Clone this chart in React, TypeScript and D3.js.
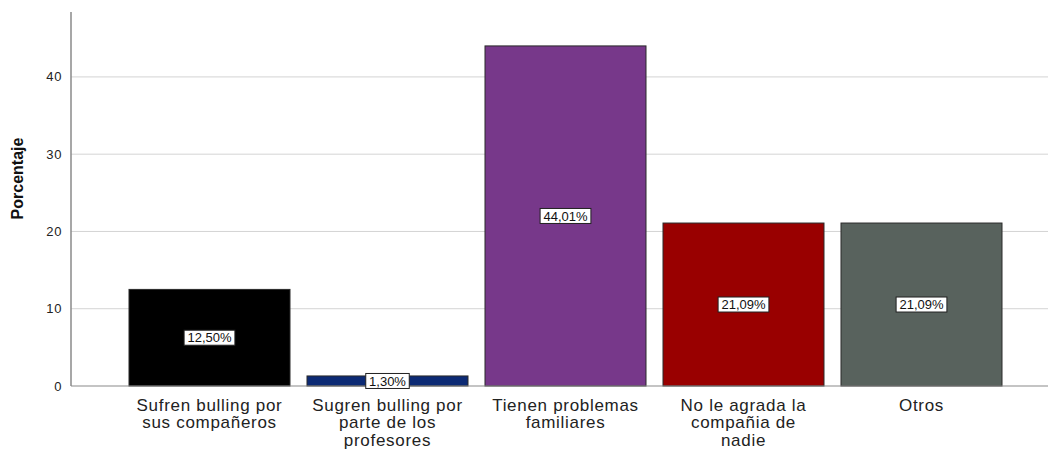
import React from "react";
import * as d3 from "d3";

const categories: string[][] = [
  ["Sufren bulling por", "sus compañeros"],
  ["Sugren bulling por", "parte de los", "profesores"],
  ["Tienen problemas", "familiares"],
  ["No le agrada la", "compañia de", "nadie"],
  ["Otros"],
];
const values: number[] = [12.5, 1.3, 44.01, 21.09, 21.09];
const valueLabels: string[] = ["12,50%", "1,30%", "44,01%", "21,09%", "21,09%"];
const colors: string[] = ["#000000", "#0c2a74", "#77388a", "#990000", "#58625d"];
const yTicks: number[] = [0, 10, 20, 30, 40];
const yTitle = "Porcentaje";

const W = 1048;
const H = 450;
const font = "'Liberation Sans', Arial, sans-serif";

export default function App() {
  const keys = categories.map((_, i) => String(i));
  const x = d3
    .scaleBand<string>()
    .domain(keys)
    .range([120.5, 1010.5])
    .paddingInner(0.0955)
    .paddingOuter(0.04775);
  const y = d3.scaleLinear().domain([0, 48.4]).range([386, 12]);
  const axisX = 71;

  return (
    <svg
      width={W}
      height={H}
      style={{ position: "absolute", left: 0, top: 0, background: "#fff" }}
      fontFamily={font}
    >
      {yTicks.filter((t) => t > 0).map((t) => (
        <line key={"g" + t} x1={axisX} x2={W} y1={y(t)} y2={y(t)} stroke="#d4d4d4" strokeWidth={1} />
      ))}
      {values.map((v, i) => (
        <rect
          key={"b" + i}
          x={x(keys[i])!}
          y={y(v)}
          width={x.bandwidth()}
          height={y(0) - y(v)}
          fill={colors[i]}
          stroke="#2a2a2a"
          strokeWidth={1}
        />
      ))}
      <line x1={axisX} x2={W} y1={y(0)} y2={y(0)} stroke="#8a8a8a" strokeWidth={1.2} />
      <line x1={axisX} x2={axisX} y1={12} y2={y(0)} stroke="#8a8a8a" strokeWidth={1.5} />
      {yTicks.map((t) => (
        <text key={"t" + t} x={62} y={y(t)} dy="0.35em" textAnchor="end" fontSize={13} letterSpacing={0.6} fill="#222">
          {t}
        </text>
      ))}
      <text
        transform={`translate(23,178.5) rotate(-90)`}
        textAnchor="middle"
        fontSize={16}
        fontWeight="bold"
        fill="#111"
      >
        {yTitle}
      </text>
      {values.map((v, i) => {
        const cx = x(keys[i])! + x.bandwidth() / 2;
        const cy = y(v / 2);
        const w = valueLabels[i].length * 7.3 + 7;
        return (
          <g key={"v" + i}>
            <rect x={cx - w / 2} y={cy - 7.5} width={w} height={15} fill="#fff" stroke="#222" strokeWidth={1} />
            <text x={cx} y={cy} dy="0.36em" textAnchor="middle" fontSize={13} fill="#111">
              {valueLabels[i]}
            </text>
          </g>
        );
      })}
      {categories.map((lines, i) => {
        const cx = x(keys[i])! + x.bandwidth() / 2;
        return (
          <text key={"c" + i} textAnchor="middle" fontSize={17} letterSpacing={0.7} fill="#222">
            {lines.map((l, j) => (
              <tspan key={j} x={cx} y={410.5 + j * 17.5}>
                {l}
              </tspan>
            ))}
          </text>
        );
      })}
    </svg>
  );
}
